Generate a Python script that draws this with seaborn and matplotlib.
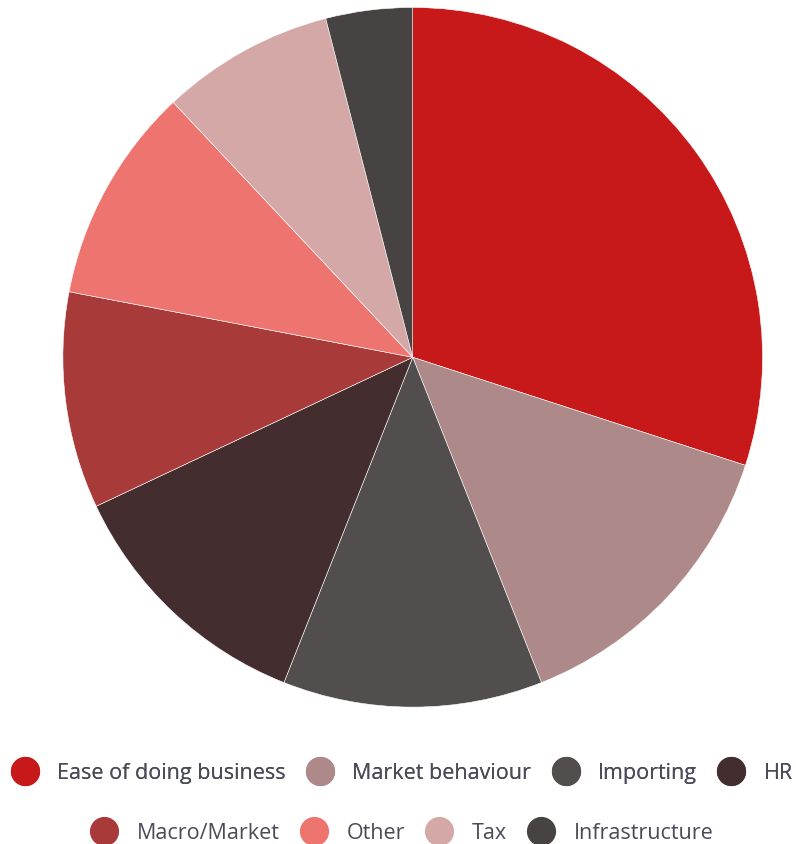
import matplotlib
matplotlib.use("Agg")
import matplotlib.pyplot as plt
from matplotlib.lines import Line2D
import seaborn as sns

categories = ["Ease of doing business", "Market behaviour", "Importing", "HR",
              "Macro/Market", "Other", "Tax", "Infrastructure"]
values = [30, 14, 12, 12, 10, 10, 8, 4]
colors = ["#C8191A", "#AD8A89", "#524E4D", "#432D2E",
          "#A93A3A", "#EE7470", "#D5A8A8", "#484343"]

sns.set_theme(style="white")
plt.rcParams["font.family"] = ["Open Sans", "DejaVu Sans"]

fig = plt.figure(figsize=(7.96, 8.45), dpi=100)
ax = fig.add_axes([0.079, 0.162, 0.879, 0.828])
ax.pie(values, colors=colors, startangle=90, counterclock=False,
       wedgeprops=dict(edgecolor="white", linewidth=0.4))
ax.set_xlim(-1, 1)
ax.set_ylim(-1, 1)
ax.set_aspect("equal")
ax.axis("off")

palette = dict(zip(categories, colors))


def legend_row(names, y):
    handles = [Line2D([], [], marker="o", ls="", markersize=20,
                      markerfacecolor=palette[n], markeredgecolor=palette[n])
               for n in names]
    return fig.legend(handles, names, loc="center", bbox_to_anchor=(0.5, y),
                      ncol=len(names), frameon=False, fontsize=15.5,
                      handletextpad=0.5, columnspacing=0.6,
                      labelcolor="#4a4a58")


leg1 = legend_row(categories[:4], 1 - 774 / 845)
fig.add_artist(leg1)
legend_row(categories[4:], 1 - 834 / 845)

fig.savefig("out.png", dpi=100)
